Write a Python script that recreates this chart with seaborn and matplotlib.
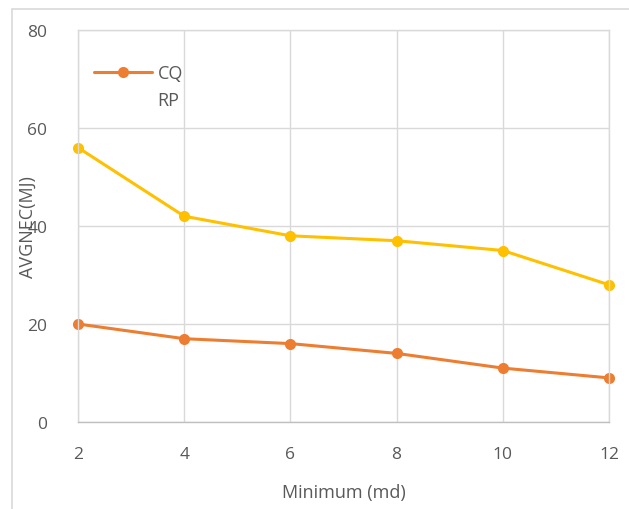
import pandas as pd
import matplotlib
matplotlib.use('Agg')
import matplotlib.pyplot as plt
import seaborn as sns
from matplotlib.lines import Line2D
from matplotlib.patches import Rectangle

# 데이터
minimum_md = [2, 4, 6, 8, 10, 12]
cq_values = [20, 17, 16, 14, 11, 9]
rp_values = [56, 42, 38, 37, 35, 28]
series_names = ['CQ', 'RP']
series_colors = ['#ED7D31', '#FFC000']

df = pd.DataFrame({
    'x': minimum_md * 2,
    'y': cq_values + rp_values,
    'series': ['CQ'] * len(minimum_md) + ['RP'] * len(minimum_md),
})

sns.set_theme(style='white')
plt.rcParams['font.family'] = ['Open Sans', 'DejaVu Sans']

fig = plt.figure(figsize=(6.29, 5.10), dpi=100)
# 바깥 차트 테두리
fig.patches.append(Rectangle((12 / 629, -0.05), 1.0, 1 - 10 / 510 + 0.05,
                             transform=fig.transFigure, fill=False,
                             edgecolor='#D9D9D9', linewidth=1.2))

ax = fig.add_axes([78 / 629, 1 - 423 / 510, (609 - 78) / 629, (423 - 31) / 510])

sns.lineplot(data=df, x='x', y='y', hue='series', palette=series_colors,
             hue_order=series_names, marker='o', markersize=8,
             markeredgewidth=0, linewidth=2.2, ax=ax, legend=False)

ax.set_xlim(2, 12)
ax.set_ylim(0, 80)
ax.set_xticks(minimum_md)
ax.set_yticks([0, 20, 40, 60, 80])
ax.grid(True, color='#D9D9D9', linewidth=1.0)
for s in ax.spines.values():
    s.set_color('#D9D9D9')
    s.set_linewidth(1.0)
ax.spines['bottom'].set_color('#BFBFBF')
for line in ax.lines:
    line.set_clip_on(False)

ax.tick_params(axis='both', colors='#595959', labelsize=12.5, length=0)
ax.tick_params(axis='x', pad=17)
ax.tick_params(axis='y', pad=22)

ax.set_xlabel('Minimum (md)', fontsize=13, color='#595959')
ax.xaxis.set_label_coords(0.5, -0.155)
ax.set_ylabel('AVGNEC(MJ)', fontsize=13, color='#595959')
ax.yaxis.set_label_coords(-0.078, 0.5)

handles = [Line2D([], [], color=series_colors[0], marker='o', markersize=8,
                  markeredgewidth=0, linewidth=2.2),
           Line2D([], [], alpha=0)]
ax.legend(handles=handles, labels=series_names, loc='upper left',
          bbox_to_anchor=(0.0, 0.955), frameon=False, fontsize=13,
          labelcolor='#595959', handlelength=3.2, handletextpad=0.3,
          labelspacing=0.5)

fig.savefig('out.png', dpi=100)
